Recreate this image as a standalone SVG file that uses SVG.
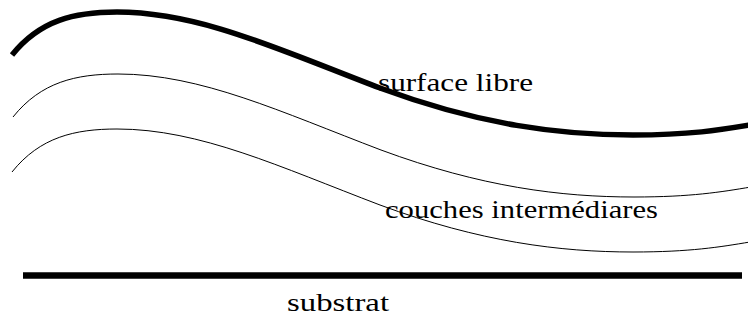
<svg xmlns="http://www.w3.org/2000/svg" width="748" height="320" viewBox="0 0 748 320">
<style>
.thick{fill:none;stroke:#000;stroke-width:5.5}
.thin{fill:none;stroke:#000;stroke-width:1}
.lbl{font-family:"Liberation Serif","DejaVu Serif",serif;font-size:26px;fill:#000}
</style>
<defs>
<path id="wave" d="M12,55 C40,20 75,12 117,12 C200,12 280,50 380,88 C480,125 560,135 633,135 C690,135 720,130 750,125"/>
</defs>
<rect width="748" height="320" fill="#fff"/>
<g id="surface">
<use href="#wave" class="thick"/>
</g>
<g id="layers">
<use href="#wave" class="thin" transform="translate(1,62)"/>
<use href="#wave" class="thin" transform="translate(0,117)"/>
</g>
<g id="substrat">
<line x1="23" y1="275.5" x2="742" y2="275.5" stroke="#000" stroke-width="6.5"/>
</g>
<text class="lbl" x="378" y="91" textLength="155" lengthAdjust="spacingAndGlyphs">surface libre</text>
<text class="lbl" x="385" y="218" textLength="273" lengthAdjust="spacingAndGlyphs">couches intermédiares</text>
<text class="lbl" x="287" y="311" textLength="102" lengthAdjust="spacingAndGlyphs">substrat</text>
</svg>
